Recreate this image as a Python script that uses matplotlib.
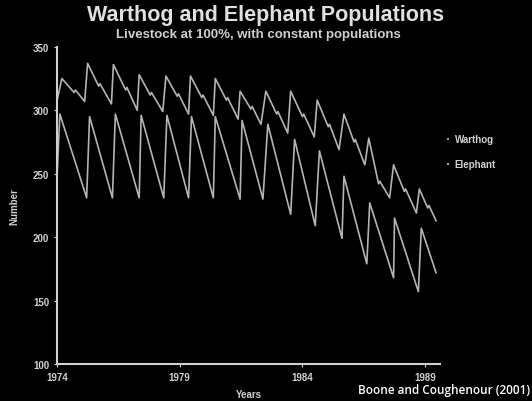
import matplotlib.pyplot as plt

# Data (years, number)
wart_years = [1974.00, 1974.20, 1974.70, 1974.75, 1975.13, 1975.25, 1975.70, 1975.75, 1976.22,
              1976.30, 1976.80, 1976.85, 1977.27, 1977.35, 1977.80, 1977.85, 1978.31,
              1978.44, 1978.90, 1978.95, 1979.36, 1979.44, 1979.90, 1979.95, 1980.37,
              1980.45, 1980.90, 1980.95, 1981.38, 1981.46, 1981.90, 1981.95, 1982.31,
              1982.51, 1982.95, 1983.00, 1983.40, 1983.52, 1984.00, 1984.05, 1984.48,
              1984.60, 1985.05, 1985.10, 1985.49, 1985.69, 1986.10, 1986.15, 1986.54,
              1986.70, 1987.10, 1987.15, 1987.55, 1987.71, 1988.15, 1988.20, 1988.64,
              1988.76, 1989.10, 1989.15, 1989.44]
wart_vals = [307, 325, 314, 316, 307, 337, 319, 321, 305,
             336, 316, 318, 300, 328, 312, 314, 299,
             327, 311, 313, 297, 327, 310, 312, 296,
             325, 308, 310, 293, 315, 301, 303, 289,
             315, 297, 299, 282, 315, 295, 297, 279,
             308, 287, 289, 269, 297, 275, 277, 257,
             278, 242, 244, 231, 257, 236, 238, 219,
             238, 223, 225, 213]

ele_years = [1974.00, 1974.12, 1975.21, 1975.33, 1976.26, 1976.38, 1977.35, 1977.43,
             1978.35, 1978.48, 1979.36, 1979.48, 1980.37, 1980.45, 1981.46, 1981.54,
             1982.39, 1982.59, 1983.52, 1983.68, 1984.52, 1984.69, 1985.61, 1985.69,
             1986.62, 1986.74, 1987.71, 1987.75, 1988.72, 1988.84, 1989.44]
ele_vals = [246, 297, 231, 295, 231, 297, 231, 296,
            231, 296, 231, 295, 231, 295, 230, 292,
            230, 289, 218, 277, 209, 268, 199, 248,
            179, 227, 168, 215, 157, 207, 172]

xticks = [1974, 1979, 1984, 1989]
yticks = [100, 150, 200, 250, 300, 350]

fg = '#d0d0d0'
fig = plt.figure(figsize=(5.32, 4.02), dpi=100, facecolor='black')
ax = fig.add_axes([0.107, 0.092, 0.72, 0.789], facecolor='black')

ax.plot(wart_years, wart_vals, color='#b4b4b4', lw=1.2)
ax.plot(ele_years, ele_vals, color='#b4b4b4', lw=1.2)

ax.set_xlim(1974, 1989.6)
ax.set_ylim(100, 350)
ax.set_xticks(xticks)
ax.set_yticks(yticks)
ax.tick_params(colors=fg, length=2, labelsize=7)
for lab in ax.get_xticklabels() + ax.get_yticklabels():
    lab.set_fontweight('bold')
    lab.set_family('Liberation Sans')
for s in ['top', 'right']:
    ax.spines[s].set_visible(False)
for s in ['left', 'bottom']:
    ax.spines[s].set_color(fg)
    ax.spines[s].set_linewidth(1.5)

ax.set_xlabel('Years', color=fg, fontsize=7, fontweight='bold', family='Liberation Sans', labelpad=5)
ax.set_ylabel('Number', color=fg, fontsize=7, fontweight='bold', family='Liberation Sans', labelpad=10)

fig.text(0.5, 0.962, 'Warthog and Elephant Populations', color='#e0e0e0', fontsize=15.5,
         fontweight='bold', family='Liberation Sans', ha='center', va='center')
fig.text(0.486, 0.914, 'Livestock at 100%, with constant populations', color='#d0d0d0', fontsize=9.5,
         fontweight='bold', family='Liberation Sans', ha='center', va='center')

# legend
fig.text(0.842, 0.652, '\u2022', color=fg, fontsize=5, ha='center', va='center')
fig.text(0.855, 0.652, 'Warthog', color=fg, fontsize=7, fontweight='bold', family='Liberation Sans', va='center')
fig.text(0.842, 0.589, '\u2022', color=fg, fontsize=5, ha='center', va='center')
fig.text(0.855, 0.589, 'Elephant', color=fg, fontsize=7, fontweight='bold', family='Liberation Sans', va='center')

fig.text(0.997, 0.028, 'Boone and Coughenour (2001)', color='white', fontsize=8.5,
         fontweight='semibold', family='Open Sans', ha='right', va='center')

fig.savefig('out.png', dpi=100, facecolor='black')
